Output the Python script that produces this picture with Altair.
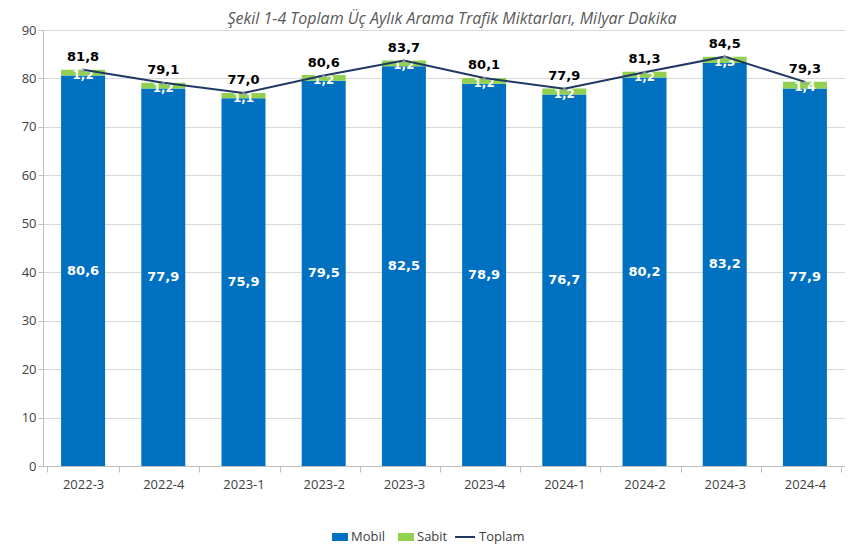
import altair as alt
import pandas as pd

categories = ["2022-3", "2022-4", "2023-1", "2023-2", "2023-3", "2023-4", "2024-1", "2024-2", "2024-3", "2024-4"]
mobil = [80.6, 77.9, 75.9, 79.5, 82.5, 78.9, 76.7, 80.2, 83.2, 77.9]
sabit = [1.2, 1.2, 1.1, 1.2, 1.2, 1.2, 1.2, 1.2, 1.3, 1.4]
toplam = [81.8, 79.1, 77.0, 80.6, 83.7, 80.1, 77.9, 81.3, 84.5, 79.3]

def fmt(v):
    return f"{v:.1f}".replace(".", ",")

rows = []
for c, m, s in zip(categories, mobil, sabit):
    rows.append({"cat": c, "series": "Mobil", "value": m, "ord": 0})
    rows.append({"cat": c, "series": "Sabit", "value": s, "ord": 1})
bars_df = pd.DataFrame(rows)

wide = pd.DataFrame({
    "cat": categories,
    "mobil": mobil,
    "sabit": sabit,
    "toplam": toplam,
})
wide["mobil_mid"] = wide["mobil"] / 2
wide["sabit_mid"] = wide["mobil"] + wide["sabit"] / 2
wide["mobil_lbl"] = [fmt(v) for v in mobil]
wide["sabit_lbl"] = [fmt(v) for v in sabit]
wide["toplam_lbl"] = [fmt(v) for v in toplam]
wide["series"] = "Toplam"

FONT = "Open Sans"
xenc = alt.X("cat:N", sort=categories, title=None,
             axis=alt.Axis(labelAngle=0, tickBand="extent", labelFontSize=13, labelColor="#404040",
                           labelFont=FONT, domainColor="#BFBFBF", tickColor="#BFBFBF", tickSize=6,
                           labelPadding=6))
yscale = alt.Scale(domain=[0, 90], nice=False)

base = alt.Chart(bars_df)

bars = base.mark_bar(size=44).encode(
    x=xenc,
    y=alt.Y("value:Q", stack="zero", scale=yscale, title=None,
            axis=alt.Axis(values=list(range(0, 91, 10)), labelFontSize=13, labelColor="#404040",
                          labelFont=FONT, gridColor="#D9D9D9", domainColor="#BFBFBF",
                          tickColor="#BFBFBF", tickSize=5, minExtent=35, maxExtent=35)),
    color=alt.Color("series:N", scale=alt.Scale(domain=["Mobil", "Sabit"], range=["#0070C0", "#92D050"]),
                    legend=alt.Legend(title=None, symbolType="M-1,-0.5H1V0.5H-1Z", symbolSize=256,
                                      symbolStrokeWidth=0,
                                      labelFontSize=13, labelFont=FONT, labelColor="#404040",
                                      orient="none", direction="horizontal", legendX=289, legendY=499,
                                      columnPadding=12, labelOffset=3)),
    order=alt.Order("ord:Q"),
)

wbase = alt.Chart(wide)

mobil_txt = wbase.mark_text(color="white", fontWeight="bold", fontSize=13, font="DejaVu Sans").encode(
    x=alt.X("cat:N", sort=categories), y=alt.Y("mobil_mid:Q", scale=yscale), text="mobil_lbl:N")

sabit_txt = wbase.mark_text(color="white", fontWeight="bold", fontSize=12, font="DejaVu Sans", dy=2).encode(
    x=alt.X("cat:N", sort=categories), y=alt.Y("sabit_mid:Q", scale=yscale), text="sabit_lbl:N")

line = wbase.mark_line(strokeWidth=2).encode(
    x=alt.X("cat:N", sort=categories), y=alt.Y("toplam:Q", scale=yscale),
    stroke=alt.Stroke("series:N", scale=alt.Scale(domain=["Toplam"], range=["#1F3864"]),
                      legend=alt.Legend(title=None, symbolType="stroke", symbolStrokeWidth=2,
                                        symbolSize=400,
                                        labelFontSize=13, labelFont=FONT, labelColor="#404040",
                                        orient="none", direction="horizontal", legendX=411, legendY=496,
                                        labelOffset=3)))

pts = wbase.mark_point(shape="triangle-up", size=30, filled=True, color="#A6A6A6").encode(
    x=alt.X("cat:N", sort=categories), y=alt.Y("toplam:Q", scale=yscale))

tot_txt = wbase.mark_text(color="black", fontWeight="bold", fontSize=13, font="DejaVu Sans",
                          baseline="bottom", dy=-6).encode(
    x=alt.X("cat:N", sort=categories), y=alt.Y("toplam:Q", scale=yscale), text="toplam_lbl:N")

chart = alt.layer(bars, mobil_txt, sabit_txt, line, pts, tot_txt).properties(
    width=802, height=436,
    padding={"left": 0, "top": 3, "right": 0, "bottom": 0},
    title=alt.Title("Şekil 1-4 Toplam Üç Aylık Arama Trafik Miktarları, Milyar Dakika",
                    font=FONT, fontSize=16, fontStyle="italic", fontWeight="normal",
                    color="#595959", anchor="middle", offset=-3, dx=8),
).configure_view(stroke=None)

chart.save("out.html", embed_options={"renderer": "svg", "actions": False})
